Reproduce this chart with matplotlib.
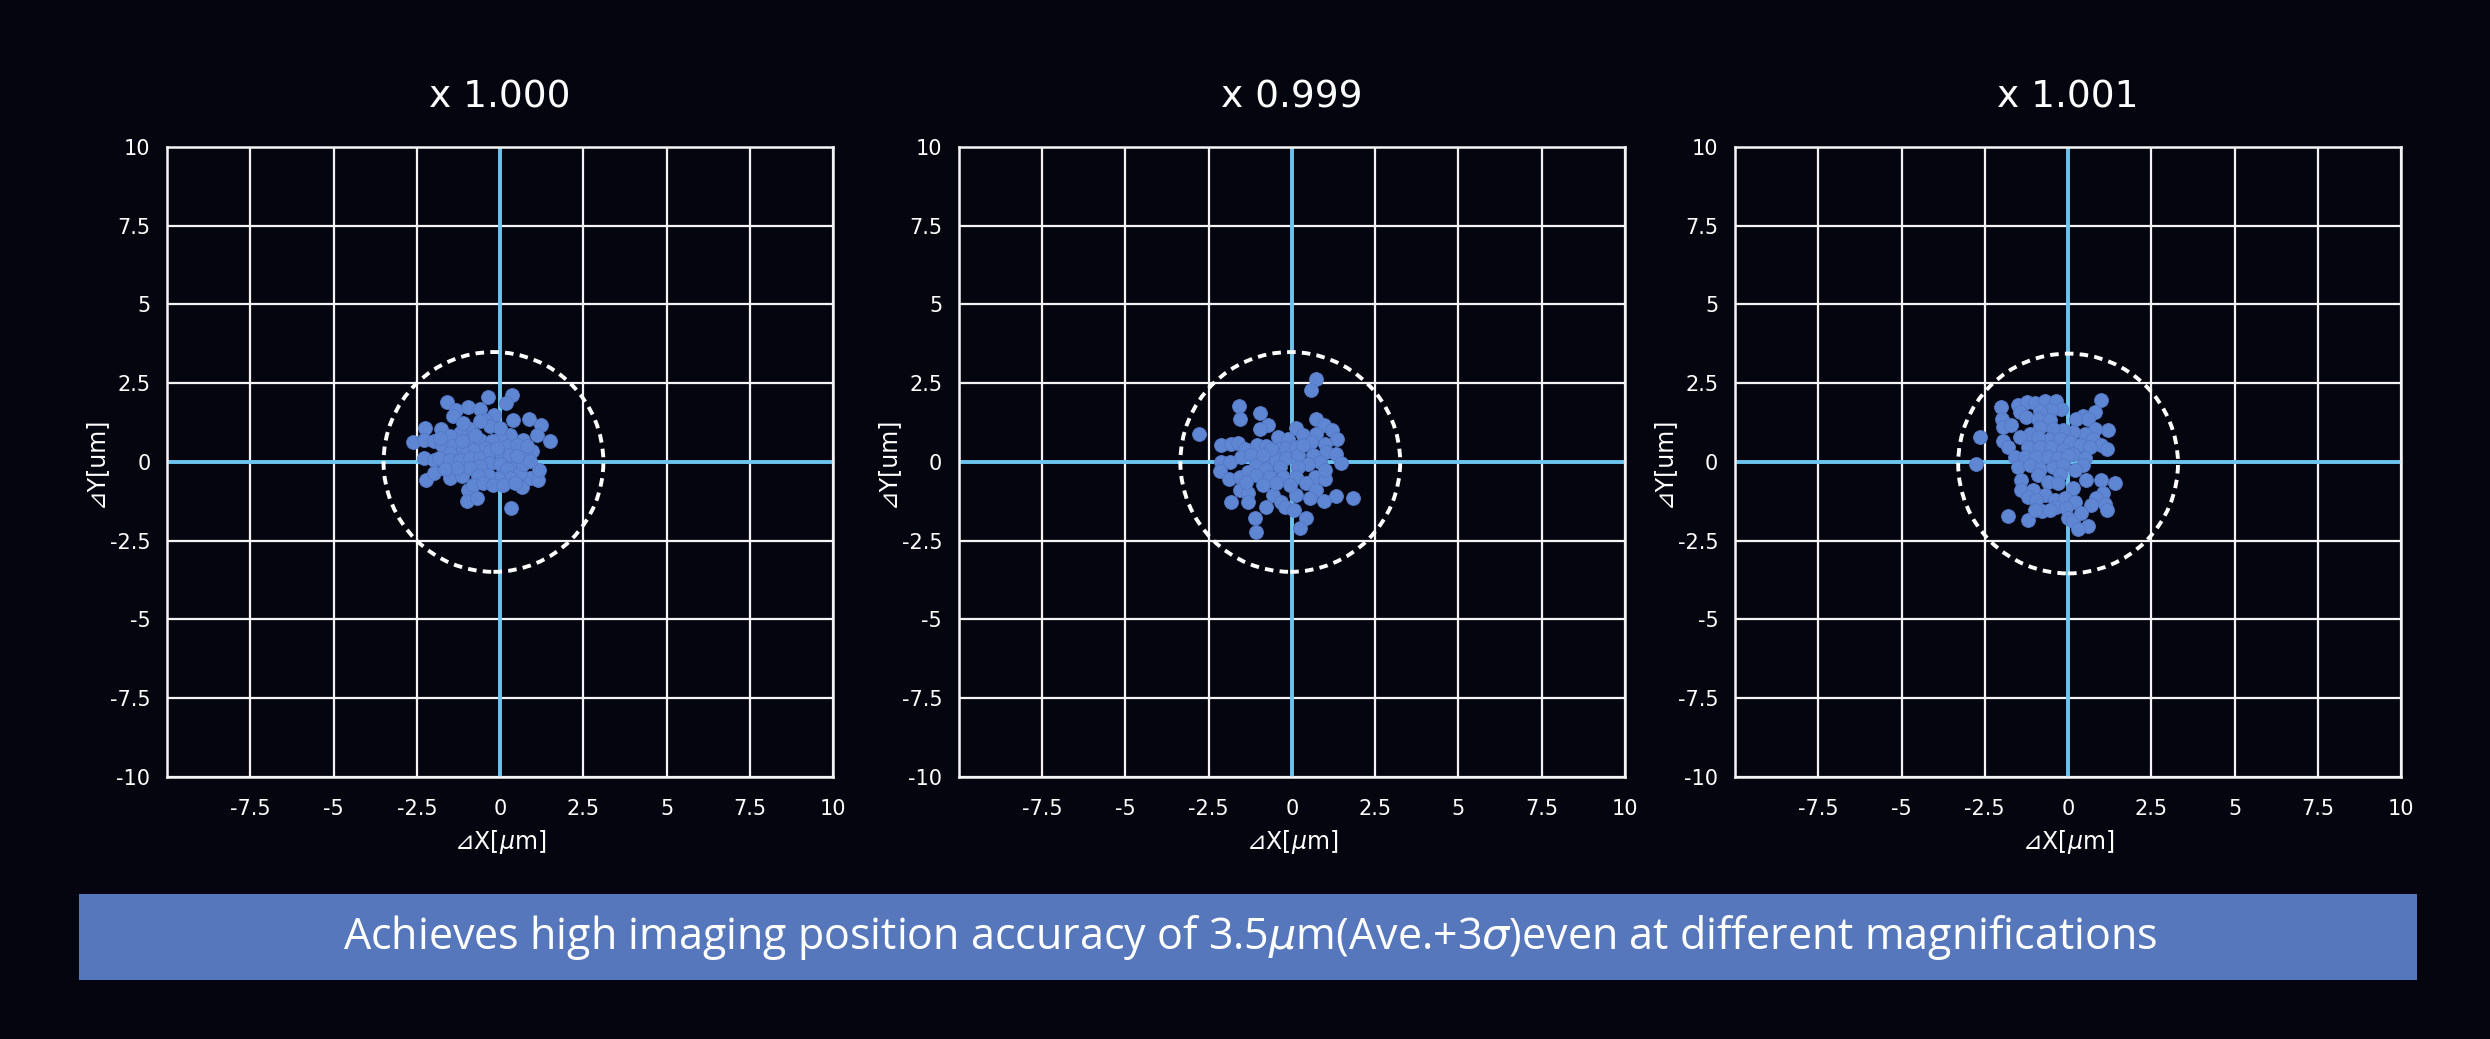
import matplotlib
matplotlib.use('Agg')
import matplotlib.pyplot as plt
from matplotlib.patches import Ellipse, Rectangle

# Panel titles (magnification)
titles = ['x 1.000', 'x 0.999', 'x 1.001']

# Tick positions / labels
tick_pos = [-10, -7.5, -5, -2.5, 0, 2.5, 5, 7.5, 10]
xtick_labels = ['', '-7.5', '-5', '-2.5', '0', '2.5', '5', '7.5', '10']
ytick_labels = ['-10', '-7.5', '-5', '-2.5', '0', '2.5', '5', '7.5', '10']

# 3-sigma circle (radius in um) and its centre per panel
circle_r = 3.3
circle_cx = [-0.2, -0.05, 0.0]
circle_cy = [0.0, 0.0, -0.05]

# Measured offsets, x 1.000
dx1 = [-0.35, 0.35, 0.18, -1.58, -1.32, -0.95, -0.60, -0.18, -0.45, -1.40, 0.40, 0.87,
       1.23, 1.51, 1.10, -2.25, -1.77, -2.63, -2.30, -2.00, -2.30, -2.00, -2.22, -2.00,
       -1.50, -1.15, -0.95, -1.00, -0.70, 0.33, 0.65, 0.90, 1.15, 1.17, 0.80, 0.50,
       0.05, 0.95, 0.70, 0.30, 0.00, -0.30, -0.90, -1.20, -1.50, -1.75, -1.40, -1.00,
       -0.60, -0.25, -0.45, -0.80, -1.15, -1.50, -1.85, -1.50, -1.20, -0.90, -0.60, -0.30,
       0.20, 0.50, 0.80, 0.30, -0.30, -0.60, -0.90, -1.30, -1.65, 0.00, 0.20, 0.60,
       0.30, -0.05, -0.35, -0.65, -0.80, -0.50, -0.20, 0.10, 0.45, 0.70, 0.90, -1.80,
       -0.60, -1.10, 0.00, -0.75, -1.15, -0.10, 0.50]
dy1 = [2.05, 2.14, 1.87, 1.89, 1.66, 1.74, 1.69, 1.50, 1.34, 1.45, 1.34, 1.37,
       1.17, 0.68, 0.87, 1.08, 1.03, 0.62, 0.71, 0.68, 0.11, 0.07, -0.58, -0.35,
       -0.51, -0.46, -0.88, -1.25, -1.14, -1.46, -0.79, -0.51, -0.58, -0.26, 0.23, -0.08,
       0.18, 0.34, 0.71, 0.87, 0.76, 1.13, 1.03, 0.92, 0.81, 0.55, 0.50, 0.66,
       0.71, 0.66, 0.44, 0.39, 0.34, 0.29, 0.13, 0.07, 0.07, 0.13, 0.13, 0.34,
       0.50, 0.55, 0.50, 0.23, -0.03, -0.14, -0.19, -0.19, -0.24, -0.08, -0.24, -0.35,
       -0.51, -0.51, -0.40, -0.46, -0.72, -0.67, -0.72, -0.72, -0.67, -0.08, 0.02, 0.76,
       1.29, 1.24, 1.08, 0.87, 0.66, 0.44, 0.18]

# Measured offsets, x 0.999
dx2 = [0.73, 0.58, -1.59, -1.57, -0.97, -2.80, -0.72, -0.97, 0.13, 0.73, 0.96, 1.21,
       1.36, 0.73, 0.33, -0.42, -0.12, -2.12, -1.82, -1.62, -1.42, -1.05, -0.79, -0.37,
       -0.17, 0.13, 0.58, 0.98, 1.03, 1.31, 1.46, -2.12, -1.87, -2.17, -1.89, -1.57,
       -1.52, -1.22, -1.07, -0.72, -0.47, -0.17, 0.18, 0.63, 0.83, 0.48, 0.18, -0.37,
       -0.77, -1.32, -1.07, -0.67, -0.27, 0.13, 0.68, 1.00, 0.98, 0.43, 0.73, 0.53,
       0.95, 1.33, 1.83, -1.57, -1.32, -1.82, -1.32, -0.79, -0.57, -0.32, -0.22, 0.05,
       0.11, -0.07, -0.47, -0.87, -1.12, -1.09, 0.41, 0.23, -1.37, -0.62, 0.33, -0.87]
dy2 = [2.63, 2.28, 1.79, 1.35, 1.56, 0.89, 1.16, 1.05, 1.08, 1.37, 1.18, 1.00,
       0.72, 0.89, 0.84, 0.79, 0.72, 0.53, 0.58, 0.61, 0.42, 0.55, 0.51, 0.42,
       0.44, 0.47, 0.63, 0.58, 0.32, 0.26, -0.03, 0.00, 0.00, -0.29, -0.53, -0.47,
       0.16, 0.21, -0.11, 0.16, 0.05, 0.11, 0.21, 0.21, 0.00, -0.05, -0.16, -0.16,
       -0.21, -0.32, -0.42, -0.47, -0.47, -0.47, -0.47, -0.55, -0.26, -0.68, -0.89, -1.16,
       -1.23, -1.08, -1.14, -0.89, -1.00, -1.28, -1.28, -1.42, -1.05, -1.26, -1.42, -1.51,
       -1.05, -0.74, -0.68, -0.74, -1.79, -2.21, -1.77, -2.11, -0.63, 0.42, 0.53, 0.21]

# Measured offsets, x 1.001
dx3 = [1.00, -2.00, -1.50, -1.23, -1.00, -0.70, -0.35, -0.20, -0.50, -0.85, -1.45, 0.82,
       0.45, 0.25, 0.60, -1.97, -1.95, -1.70, -1.25, -0.90, -0.55, -0.85, -1.15, -1.45,
       -1.95, -1.80, -2.65, -2.77, 1.20, 0.82, 0.50, 0.15, -0.15, -0.45, -0.55, -0.90,
       -0.25, 0.05, 0.35, 0.75, 1.00, 1.18, 0.65, -1.20, -0.85, -0.50, -0.15, 0.15,
       0.50, 0.45, -1.60, -1.30, -0.95, -0.60, -0.30, 0.00, -1.50, -1.15, -0.85, -0.45,
       -0.15, 0.20, -0.25, -0.90, -1.40, -0.60, -0.30, 0.55, 1.00, 1.40, 0.15, -1.40,
       -1.05, -0.70, -1.20, -0.95, -0.40, -0.10, 0.20, 1.05, 0.85, 0.70, 1.10, 1.17,
       -0.77, -0.35, -0.05, 0.00, 0.15, 0.60, 0.30, -1.80, -1.20, -1.00, -0.55, 0.40]
dy3 = [1.98, 1.74, 1.82, 1.89, 1.86, 1.95, 1.92, 1.68, 1.65, 1.63, 1.58, 1.58,
       1.47, 1.37, 1.37, 1.37, 1.11, 1.16, 1.42, 1.37, 1.32, 1.11, 0.89, 0.79,
       0.66, 0.47, 0.79, -0.05, 1.00, 1.05, 0.89, 0.95, 1.00, 1.05, 0.74, 0.79,
       0.74, 0.63, 0.53, 0.74, 0.53, 0.42, 0.47, 0.47, 0.47, 0.47, 0.37, 0.26,
       0.11, -0.11, 0.16, 0.16, 0.16, 0.16, 0.11, 0.21, -0.16, -0.11, -0.21, -0.16,
       -0.11, -0.26, -0.37, -0.42, -0.58, -0.63, -0.68, -0.56, -0.56, -0.68, -0.84, -0.89,
       -0.89, -1.05, -1.11, -1.21, -1.21, -1.16, -1.26, -1.00, -1.16, -1.37, -1.32, -1.53,
       -1.55, -1.42, -1.47, -1.79, -1.89, -2.03, -2.14, -1.72, -1.84, -1.53, -1.53, -1.61]

xs = [dx1, dx2, dx3]
ys = [dy1, dy2, dy3]

bg = '#04050f'
grid_col = '#f4f4f4'
axis_blue = '#6cc4ee'
dot_col = '#5f86d3'
banner_col = '#5677bb'

fig = plt.figure(figsize=(24.9, 10.39), dpi=100, facecolor=bg)

lefts = [0.0671, 0.3851, 0.6968]
for i in range(3):
    ax = fig.add_axes([lefts[i], 0.2522, 0.2675, 0.6064])
    ax.set_facecolor(bg)
    ax.set_xlim(-10, 10)
    ax.set_ylim(-10, 10)
    ax.set_xticks(tick_pos)
    ax.set_yticks(tick_pos)
    ax.set_xticklabels(xtick_labels)
    ax.set_yticklabels(ytick_labels)
    ax.tick_params(length=0, colors='white', labelsize=15)
    ax.tick_params(axis='x', pad=16)
    ax.tick_params(axis='y', pad=12)
    ax.grid(True, color=grid_col, lw=1.6, zorder=0)
    ax.set_axisbelow(True)
    for s in ax.spines.values():
        s.set_color(grid_col)
        s.set_linewidth(1.8)
    ax.axhline(0, color=axis_blue, lw=2.8, zorder=1)
    ax.axvline(0, color=axis_blue, lw=2.8, zorder=1)
    ax.scatter(xs[i], ys[i], s=100, color=dot_col, edgecolors='#5479c6',
               linewidths=0.6, zorder=3)
    circ = Ellipse((circle_cx[i], circle_cy[i]), 2 * circle_r, 2 * circle_r * 33.3 / 31.5,
                   fill=False, edgecolor='white', lw=2.8, linestyle=(0, (2.2, 1.6)), zorder=4)
    ax.add_patch(circ)
    ax.text(0.5, 1.078, titles[i], transform=ax.transAxes, ha='center', va='center',
            color='white', fontsize=27)
    ax.set_xlabel('⊿X[$\\mu$m]', color='white', fontsize=17, labelpad=6)
    ax.set_ylabel('⊿Y[um]', color='white', fontsize=17, labelpad=2)

# Bottom banner
fig.patches.append(Rectangle((0.0317, 0.0568), 0.939, 0.0828, transform=fig.transFigure,
                             facecolor=banner_col, edgecolor='none'))
fig.text(0.502, 0.098,
         'Achieves high imaging position accuracy of 3.5$\\mu$m(Ave.+3$\\sigma$)even at different magnifications',
         ha='center', va='center', color='white', fontsize=31, family='Open Sans')

fig.savefig('out.png', dpi=100, facecolor=bg)
